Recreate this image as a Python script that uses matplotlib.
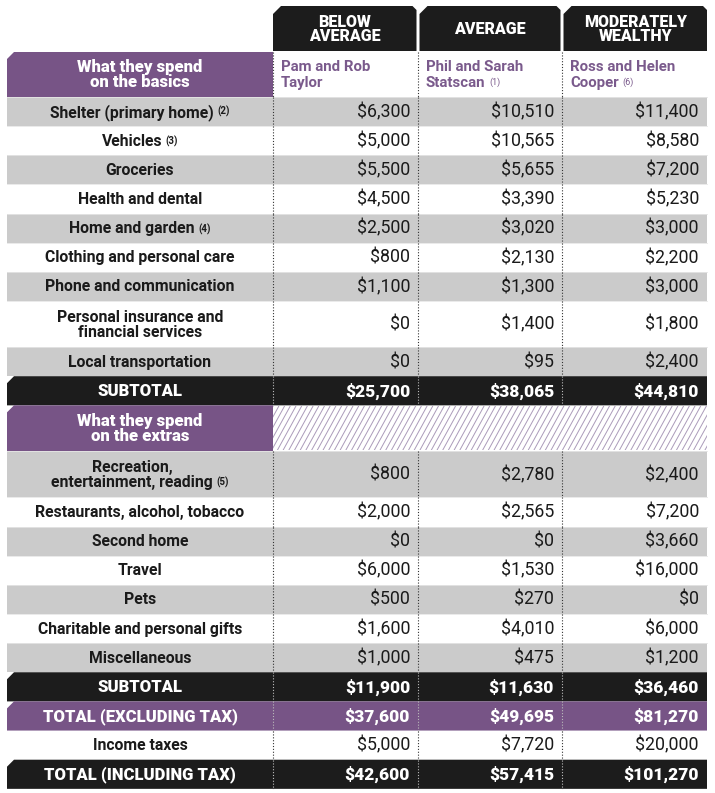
import matplotlib.pyplot as plt
import numpy as np
from matplotlib.patches import Polygon, Rectangle

plt.rcParams['font.family'] = ['Roboto', 'DejaVu Sans']

# ---- data ----
columns = ["BELOW\nAVERAGE", "AVERAGE", "MODERATELY\nWEALTHY"]
households = [("Pam and Rob", "Taylor", ""),
              ("Phil and Sarah", "Statscan", "(1)"),
              ("Ross and Helen", "Cooper", "(6)")]

basics_labels = ["Shelter (primary home)", "Vehicles", "Groceries", "Health and dental",
                 "Home and garden", "Clothing and personal care", "Phone and communication",
                 "Personal insurance and\nfinancial services", "Local transportation"]
basics_notes = ["(2)", "(3)", "", "", "(4)", "", "", "", ""]
below_basics = [6300, 5000, 5500, 4500, 2500, 800, 1100, 0, 0]
avg_basics = [10510, 10565, 5655, 3390, 3020, 2130, 1300, 1400, 95]
wealthy_basics = [11400, 8580, 7200, 5230, 3000, 2200, 3000, 1800, 2400]
subtotal_basics = [25700, 38065, 44810]

extras_labels = ["Recreation,\nentertainment, reading", "Restaurants, alcohol, tobacco",
                 "Second home", "Travel", "Pets", "Charitable and personal gifts",
                 "Miscellaneous"]
extras_notes = ["(5)", "", "", "", "", "", ""]
below_extras = [800, 2000, 0, 6000, 500, 1600, 1000]
avg_extras = [2780, 2565, 0, 1530, 270, 4010, 475]
wealthy_extras = [2400, 7200, 3660, 16000, 0, 6000, 1200]
subtotal_extras = [11900, 11630, 36460]

total_excl_tax = [37600, 49695, 81270]
income_taxes = [5000, 7720, 20000]
total_incl_tax = [42600, 57415, 101270]

# ---- style ----
PURPLE = '#775486'
BLACK = '#1c1c1c'
GRAY = '#cbcbcb'
NAME_C = '#7a5a8c'
TXT = '#1a1a1a'

X = [7, 273, 418, 562, 707]
SINGLE, DOUBLE = 29.15, 46
LAB_SIZE, VAL_SIZE, HEAVY_SIZE = 11.3, 12.8, 12

fig = plt.figure(figsize=(7.15, 7.93), dpi=100)
ax = fig.add_axes([0, 0, 1, 1])
ax.set_xlim(0, 715)
ax.set_ylim(793, 0)
ax.axis('off')


def chamfer(x, y, w, h, color, cl=7, cr=0, z=1):
    pts = [(x, y + cl), (x + cl, y), (x + w - cr, y), (x + w, y + cr), (x + w, y + h), (x, y + h)]
    ax.add_patch(Polygon(pts, closed=True, facecolor=color, edgecolor='none', zorder=z))


def money(v):
    return "${:,}".format(v)


def label(text, note, y):
    shift = 8 if note else 0
    t = ax.text((X[0] + X[1]) / 2 - shift, y, text, ha='center', va='center', color=TXT,
                fontsize=LAB_SIZE, fontweight='bold', linespacing=1.0, zorder=5)
    if note:
        # superscript next to the last line
        yy = 0.5 if '\n' in text else 1
        ax.annotate(note, xy=(1, yy), xycoords=t, xytext=(2.5, -1.5), textcoords='offset points',
                    fontsize=7, fontweight='bold', color=TXT, ha='left', va='top', zorder=5)


def dotted(y0, y1, color):
    for x in X[1:4]:
        ax.plot([x, x], [y0, y1], color=color, lw=0.8, linestyle=(0, (1, 1.6)), zorder=4)


# column header tabs
for i, name in enumerate(columns):
    left = X[i + 1] + (0 if i == 0 else 1.5)
    right = X[i + 2] - (1.5 if i < 2 else 0)
    chamfer(left, 6, right - left, 45, BLACK, cl=8, cr=4)
    ax.text((left + right) / 2, 29, name, ha='center', va='center', color='white',
            fontsize=HEAVY_SIZE - 0.5, fontweight='black', linespacing=0.92)

# basics header row
y = 52
chamfer(X[0], y, X[1] - X[0], 45, PURPLE)
ax.text((X[0] + X[1]) / 2, y + 22.5, "What they spend\non the basics", ha='center', va='center',
        color='white', fontsize=HEAVY_SIZE, fontweight='black', linespacing=0.92)
for i, (l1, l2, note) in enumerate(households):
    ax.text(X[i + 1] + 8, y + 15, l1, ha='left', va='center', color=NAME_C,
            fontsize=10.8, fontweight='bold')
    t2 = ax.text(X[i + 1] + 8, y + 31, l2, ha='left', va='center', color=NAME_C,
                 fontsize=10.8, fontweight='bold')
    if note:
        ax.annotate(note, xy=(1, 1), xycoords=t2, xytext=(2.5, -1), textcoords='offset points',
                    fontsize=6.5, color=NAME_C, ha='left', va='top')
dotted(y, y + 45, '#333333')
y += 45


def data_rows(labels, notes, cols, y):
    for r, lab in enumerate(labels):
        h = DOUBLE if '\n' in lab else SINGLE
        if r % 2 == 0:
            ax.add_patch(Rectangle((X[0], y), X[4] - X[0], h, facecolor=GRAY, edgecolor='none', zorder=1))
        ax.plot([X[0], X[4]], [y, y], color='#e6e6e6', lw=0.6, zorder=2)
        label(lab, notes[r], y + h / 2 + 0.5)
        for c in range(3):
            ax.text(X[c + 2] - 8, y + h / 2 + 0.5, money(cols[c][r]), ha='right', va='center',
                    color=TXT, fontsize=VAL_SIZE, zorder=5)
        dotted(y, y + h, '#333333')
        y += h
    return y


def total_row(text, vals, color, y):
    chamfer(X[0], y, X[4] - X[0], SINGLE, color, cl=7)
    ax.text((X[0] + X[1]) / 2, y + SINGLE / 2 + 0.5, text, ha='center', va='center',
            color='white', fontsize=HEAVY_SIZE, fontweight='black', zorder=5)
    for c in range(3):
        ax.text(X[c + 2] - 8, y + SINGLE / 2 + 0.5, money(vals[c]), ha='right', va='center',
                color='white', fontsize=HEAVY_SIZE + 0.5, fontweight='black', zorder=5)
    dotted(y, y + SINGLE, '#bbbbbb')
    return y + SINGLE


y = data_rows(basics_labels, basics_notes, [below_basics, avg_basics, wealthy_basics], y)
y = total_row("SUBTOTAL", subtotal_basics, BLACK, y)

# extras header row, hatched on the value side
chamfer(X[0], y, X[1] - X[0], DOUBLE, PURPLE)
ax.text((X[0] + X[1]) / 2, y + DOUBLE / 2, "What they spend\non the extras", ha='center', va='center',
        color='white', fontsize=HEAVY_SIZE, fontweight='black', linespacing=0.92)
hatch_box = Rectangle((X[1], y + 1), X[4] - X[1], DOUBLE - 2, facecolor='white', edgecolor='none', zorder=1)
ax.add_patch(hatch_box)
lean = (DOUBLE - 2) * 0.55
for hx in np.arange(X[1] - lean, X[4], 5.7):
    ln, = ax.plot([hx, hx + lean], [y + DOUBLE - 1, y + 1], color='#ab9bba', lw=0.7, zorder=2)
    ln.set_clip_path(hatch_box)
y += DOUBLE

y = data_rows(extras_labels, extras_notes, [below_extras, avg_extras, wealthy_extras], y)
y = total_row("SUBTOTAL", subtotal_extras, BLACK, y)
y = total_row("TOTAL (EXCLUDING TAX)", total_excl_tax, PURPLE, y)

# income taxes row (white)
label("Income taxes", "", y + SINGLE / 2 + 0.5)
for c in range(3):
    ax.text(X[c + 2] - 8, y + SINGLE / 2 + 0.5, money(income_taxes[c]), ha='right', va='center',
            color=TXT, fontsize=VAL_SIZE, zorder=5)
dotted(y, y + SINGLE, '#333333')
y += SINGLE

y = total_row("TOTAL (INCLUDING TAX)", total_incl_tax, BLACK, y)

fig.savefig('out.png', dpi=100)
